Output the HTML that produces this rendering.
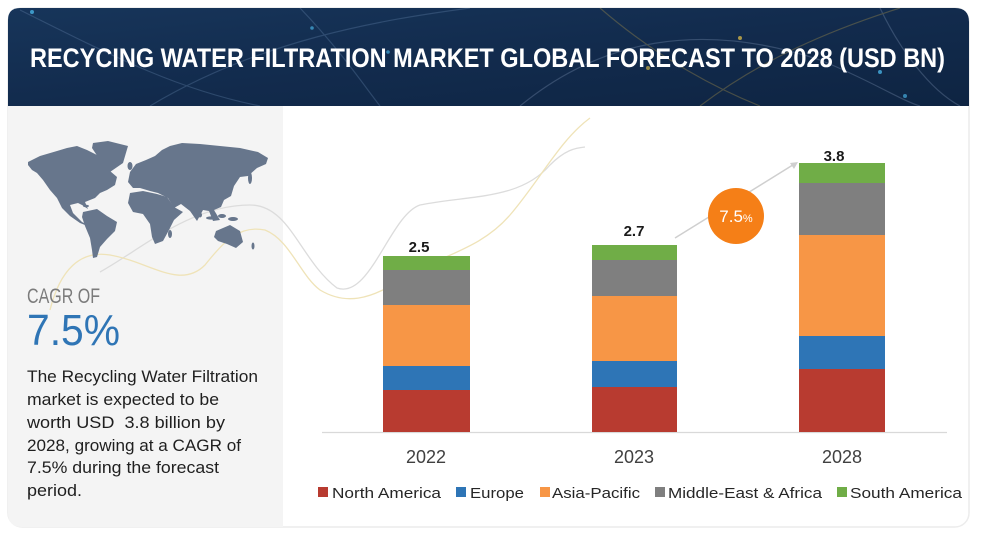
<!DOCTYPE html>
<html>
<head>
<meta charset="utf-8">
<style>
  html,body{margin:0;padding:0;background:#ffffff;}
  body{width:987px;height:541px;overflow:hidden;}
  svg{display:block;}
  text{font-family:"Liberation Sans",sans-serif;}
</style>
</head>
<body>
<svg width="987" height="541" viewBox="0 0 987 541" xmlns="http://www.w3.org/2000/svg">
  <defs>
    <linearGradient id="ban" x1="0" y1="0" x2="1" y2="1">
      <stop offset="0" stop-color="#17355a"/>
      <stop offset="0.5" stop-color="#122b4d"/>
      <stop offset="1" stop-color="#0e2442"/>
    </linearGradient>
    <clipPath id="banclip">
      <path d="M8,20 Q8,8 20,8 L955,8 Q969,8 969,22 L969,106 L8,106 Z"/>
    </clipPath>
  </defs>

  <!-- card -->
  <rect x="8" y="8" width="961" height="519" rx="14" ry="14" fill="#ffffff" stroke="#ececec" stroke-width="1.5"/>
  <!-- left panel -->
  <path d="M8,106 L283,106 L283,527 L22,527 Q8,527 8,513 Z" fill="#f4f4f4"/>

  <!-- banner -->
  <g clip-path="url(#banclip)">
    <rect x="8" y="8" width="961" height="98" fill="url(#ban)"/>
    <g fill="none" stroke-width="1.2" opacity="0.3">
      <path d="M20,10 C120,60 180,90 260,106" stroke="#6f8fb5"/>
      <path d="M150,106 C260,40 380,20 470,8" stroke="#6f8fb5"/>
      <path d="M520,106 C600,40 700,20 820,60 C870,80 900,100 920,106" stroke="#8aa0c0"/>
      <path d="M600,8 C660,60 720,90 760,106" stroke="#c9a84a"/>
      <path d="M880,8 C900,50 930,90 960,106" stroke="#8aa0c0"/>
      <path d="M300,8 C340,50 360,80 380,106" stroke="#6f8fb5"/>
      <path d="M700,106 C760,60 830,30 900,8" stroke="#c9a84a"/>
    </g>
    <circle cx="32" cy="12" r="2" fill="#4fc3f7" opacity="0.7"/>
    <circle cx="312" cy="28" r="1.8" fill="#4fc3f7" opacity="0.6"/>
    <circle cx="388" cy="52" r="1.8" fill="#4fc3f7" opacity="0.6"/>
    <circle cx="740" cy="38" r="2" fill="#e8c547" opacity="0.7"/>
    <circle cx="880" cy="72" r="2" fill="#4fc3f7" opacity="0.7"/>
    <circle cx="905" cy="96" r="2" fill="#4fc3f7" opacity="0.6"/>
    <circle cx="648" cy="68" r="2" fill="#e8c547" opacity="0.6"/>
    <text x="30" y="67" font-size="27" font-weight="bold" fill="#ffffff" textLength="915" lengthAdjust="spacingAndGlyphs" style="font-family:'Liberation Sans Narrow','Liberation Sans',sans-serif;">RECYCING WATER FILTRATION MARKET GLOBAL FORECAST TO 2028 (USD BN)</text>
  </g>

  <!-- faint background curves -->
  <g fill="none" stroke-width="1.3">
    <path d="M100,272 C140,250 190,205 250,205 C290,205 300,260 337,288 C370,300 390,215 420,205 C470,195 520,200 550,165 C565,150 575,148 585,147" stroke="#dcdcdc"/>
    <path d="M50,310 C60,270 80,250 110,255 C150,262 180,290 205,265 C225,240 240,225 265,230 C290,240 300,275 320,290 C345,305 370,300 400,280 C440,255 480,250 510,215 C540,180 560,140 590,118" stroke="#efe3b8"/>
  </g>

  <!-- world map -->
  <g fill="#67768c">
    <!-- North America -->
    <path d="M28,162 L40,156 L57,151 L67,148 L77,146 L87,150 L97,155 L110,171 L117,177 L115,185 L107,190 L100,193 L95,198 L90,200 L85,202 L88,209 L82,205 L78,203 L70,205 L73,213 L82,222 L88,225 L93,225 L98,228 L90,227 L80,223 L70,216 L62,208 L57,198 L50,190 L43,180 L37,173 L32,170 L28,165 Z"/>
    <!-- Greenland -->
    <path d="M93,143 L108,141 L128,146 L123,163 L110,172 L100,160 L92,148 Z"/>
    <!-- South America -->
    <path d="M83,212 L97,209 L107,216 L117,222 L115,231 L107,239 L100,247 L97,257 L93,258 L92,250 L90,238 L85,226 L82,217 Z"/>
    <!-- Eurasia -->
    <path d="M130,172 L136,164 L146,160 L155,156 L162,150 L170,146 L182,143 L200,144 L220,146 L240,148 L258,152 L268,158 L266,164 L257,168 L248,176 L240,177 L234,186 L231,196 L224,200 L221,207 L214,210 L220,220 L213,221 L209,211 L203,210 L197,221 L190,211 L181,204 L174,208 L168,198 L158,193 L150,191 L140,188 L133,188 L128,182 Z"/>
    <!-- Africa -->
    <path d="M130,193 L143,191 L157,194 L167,197 L174,207 L183,212 L174,220 L169,230 L163,241 L155,244 L152,237 L150,224 L143,214 L133,212 L128,203 Z"/>
    <ellipse cx="170" cy="234" rx="2" ry="4"/>
    <!-- Australia -->
    <path d="M216,231 L230,225 L240,231 L243,242 L236,248 L227,244 L218,241 L214,237 Z"/>
    <!-- islands -->
    <ellipse cx="211" cy="218" rx="5" ry="1.6"/>
    <ellipse cx="222" cy="216" rx="4" ry="2"/>
    <ellipse cx="233" cy="219" rx="5" ry="2"/>
    <ellipse cx="250" cy="178" rx="2" ry="6"/>
    <ellipse cx="253" cy="246" rx="1.5" ry="3.5"/>
    <ellipse cx="130" cy="166" rx="2.5" ry="4"/>
    <ellipse cx="200" cy="215" rx="2" ry="2.5"/>
    <ellipse cx="86" cy="206" rx="3" ry="1.2"/>
  </g>

  <!-- left text -->
  <text x="27" y="303" font-size="21" fill="#7b7b7b" textLength="73" lengthAdjust="spacingAndGlyphs" style="font-family:'Liberation Sans Narrow','Liberation Sans',sans-serif;">CAGR OF</text>
  <text x="27" y="345" font-size="44" fill="#2f75b5" textLength="93" lengthAdjust="spacingAndGlyphs">7.5%</text>
  <g font-size="16.5" fill="#1f1f1f">
    <text x="27" y="382" textLength="231" lengthAdjust="spacingAndGlyphs">The Recycling Water Filtration</text>
    <text x="27" y="405" textLength="192" lengthAdjust="spacingAndGlyphs">market is expected to be</text>
    <text x="27" y="428" textLength="198" lengthAdjust="spacingAndGlyphs" xml:space="preserve">worth USD  3.8 billion by</text>
    <text x="27" y="451" textLength="214" lengthAdjust="spacingAndGlyphs">2028, growing at a CAGR of</text>
    <text x="27" y="473" textLength="192" lengthAdjust="spacingAndGlyphs">7.5% during the forecast</text>
    <text x="27" y="496" textLength="55" lengthAdjust="spacingAndGlyphs">period.</text>
  </g>

  <!-- baseline -->
  <line x1="322" y1="432.5" x2="947" y2="432.5" stroke="#d9d9d9" stroke-width="1.2"/>

  <!-- bar 2022 -->
  <rect x="383" y="390" width="87" height="42" fill="#b83b30"/>
  <rect x="383" y="366" width="87" height="24" fill="#2e75b6"/>
  <rect x="383" y="305" width="87" height="61" fill="#f79646"/>
  <rect x="383" y="270" width="87" height="35" fill="#7f7f7f"/>
  <rect x="383" y="256" width="87" height="14" fill="#70ad47"/>

  <!-- bar 2023 -->
  <rect x="592" y="387" width="85" height="45" fill="#b83b30"/>
  <rect x="592" y="361" width="85" height="26" fill="#2e75b6"/>
  <rect x="592" y="296" width="85" height="65" fill="#f79646"/>
  <rect x="592" y="260" width="85" height="36" fill="#7f7f7f"/>
  <rect x="592" y="245" width="85" height="15" fill="#70ad47"/>

  <!-- bar 2028 -->
  <rect x="799" y="369" width="86" height="63" fill="#b83b30"/>
  <rect x="799" y="336" width="86" height="33" fill="#2e75b6"/>
  <rect x="799" y="235" width="86" height="101" fill="#f79646"/>
  <rect x="799" y="183" width="86" height="52" fill="#7f7f7f"/>
  <rect x="799" y="163" width="86" height="20" fill="#70ad47"/>

  <!-- value labels -->
  <g font-size="15" font-weight="bold" fill="#1a1a1a" text-anchor="middle">
    <text x="419" y="252">2.5</text>
    <text x="634" y="236">2.7</text>
    <text x="834" y="161">3.8</text>
  </g>

  <!-- year labels -->
  <g font-size="18" fill="#404040" text-anchor="middle">
    <text x="426" y="463">2022</text>
    <text x="634" y="463">2023</text>
    <text x="842" y="463">2028</text>
  </g>

  <!-- CAGR arrow + circle -->
  <line x1="675" y1="238" x2="796" y2="163" stroke="#cfcfcf" stroke-width="1.5"/>
  <path d="M798,162 L790,163 L794,169 Z" fill="#cfcfcf"/>
  <circle cx="736" cy="216" r="28" fill="#f57f17"/>
  <text x="736" y="222" text-anchor="middle" fill="#ffffff" font-size="17"><tspan>7.5</tspan><tspan font-size="11">%</tspan></text>

  <!-- legend -->
  <g font-size="15" fill="#262626">
    <rect x="318" y="487" width="10" height="10" fill="#b83b30"/>
    <text x="332" y="498" textLength="109" lengthAdjust="spacingAndGlyphs">North America</text>
    <rect x="456" y="487" width="10" height="10" fill="#2e75b6"/>
    <text x="470" y="498" textLength="54" lengthAdjust="spacingAndGlyphs">Europe</text>
    <rect x="540" y="487" width="10" height="10" fill="#f79646"/>
    <text x="552" y="498" textLength="88" lengthAdjust="spacingAndGlyphs">Asia-Pacific</text>
    <rect x="655" y="487" width="10" height="10" fill="#7f7f7f"/>
    <text x="668" y="498" textLength="154" lengthAdjust="spacingAndGlyphs">Middle-East &amp; Africa</text>
    <rect x="837" y="487" width="10" height="10" fill="#70ad47"/>
    <text x="850" y="498" textLength="112" lengthAdjust="spacingAndGlyphs">South America</text>
  </g>
</svg>
</body>
</html>
